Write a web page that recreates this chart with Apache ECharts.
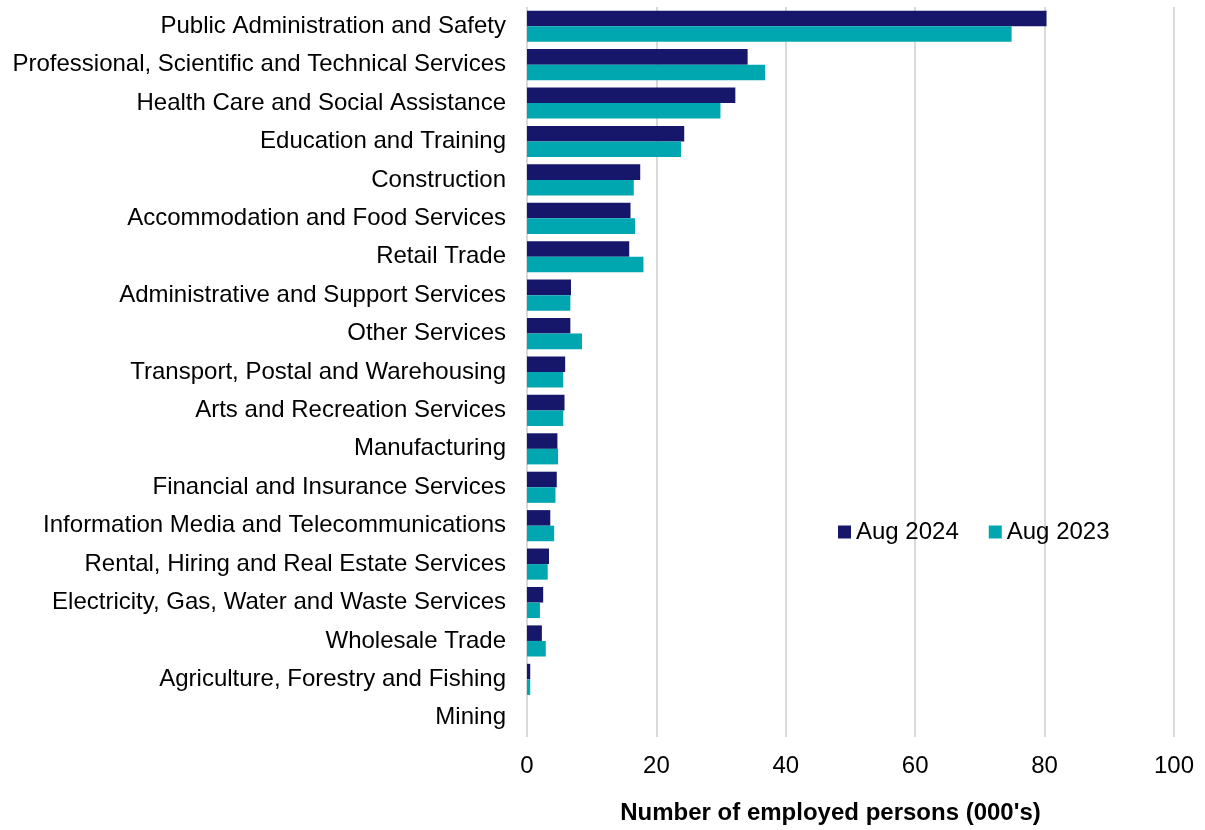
<!DOCTYPE html>
<html><head><meta charset="utf-8">
<script src="https://cdn.jsdelivr.net/npm/echarts@6/dist/echarts.min.js"></script>
<style>html,body{margin:0;padding:0;background:#fff}#c{width:1205px;height:830px}</style>
</head><body><div id="c"></div>
<script>
const categories = ["Public Administration and Safety","Professional, Scientific and Technical Services","Health Care and Social Assistance","Education and Training","Construction","Accommodation and Food Services","Retail Trade","Administrative and Support Services","Other Services","Transport, Postal and Warehousing","Arts and Recreation Services","Manufacturing","Financial and Insurance Services","Information Media and Telecommunications","Rental, Hiring and Real Estate Services","Electricity, Gas, Water and Waste Services","Wholesale Trade","Agriculture, Forestry and Fishing","Mining"];
const aug2024 = [80.3,34.1,32.2,24.3,17.5,16.0,15.8,6.8,6.7,5.9,5.8,4.7,4.6,3.6,3.4,2.5,2.3,0.5,0];
const aug2023 = [74.9,36.8,29.9,23.8,16.5,16.7,18.0,6.7,8.5,5.6,5.6,4.8,4.4,4.2,3.2,2.0,2.9,0.5,0];
const xTicks = {min:0,max:100,interval:20};
const font = 'Liberation Sans, Arial, sans-serif';
const chart = echarts.init(document.getElementById('c'));
chart.setOption({
  animation:false,
  textStyle:{fontFamily:font},
  grid:{left:527,right:31,top:7,bottom:88,containLabel:false},
  legend:{left:833,top:515,itemWidth:13,itemHeight:13,itemGap:30,icon:'rect',
    textStyle:{fontFamily:font,fontSize:24,color:'#000'},
    data:['Aug 2024','Aug 2023']},
  xAxis:{type:'value',min:xTicks.min,max:xTicks.max,interval:xTicks.interval,
    name:"Number of employed persons (000's)",nameLocation:'middle',nameGap:64,
    nameTextStyle:{fontFamily:font,fontSize:24,fontWeight:'bold',color:'#000',padding:[0,40,0,0]},
    axisLine:{show:false},axisTick:{show:false},
    axisLabel:{fontFamily:font,fontSize:24,color:'#000',margin:17},
    splitLine:{lineStyle:{color:'#d9d9d9',width:2}}},
  yAxis:{type:'category',data:categories,inverse:true,
    axisLine:{show:false},axisTick:{show:false},
    axisLabel:{fontFamily:font,fontSize:24,color:'#000',margin:21}},
  series:[
    {name:'Aug 2024',type:'bar',data:aug2024,barGap:'0%',barCategoryGap:'19%',itemStyle:{color:'#16166b'}},
    {name:'Aug 2023',type:'bar',data:aug2023,barGap:'0%',barCategoryGap:'19%',itemStyle:{color:'#00a7b0'}}
  ]
});
</script></body></html>
